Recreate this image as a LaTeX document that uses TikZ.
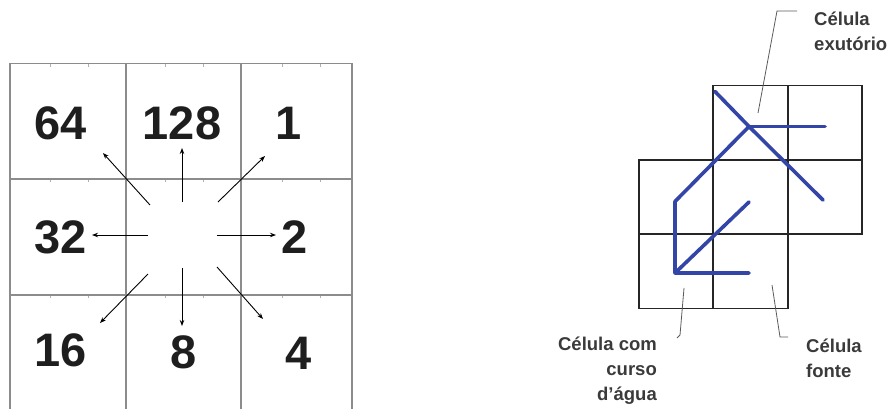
\documentclass[tikz,border=0pt]{standalone}
\usepackage{fontspec}
\setmainfont{Liberation Sans}
\usetikzlibrary{arrows.meta,calc}
\definecolor{gridgray}{HTML}{8C8C8C}
\definecolor{tickgray}{HTML}{B0B0B0}
\definecolor{numblack}{HTML}{1E1E1E}
\definecolor{flowblue}{HTML}{3445A8}
\definecolor{labelgray}{HTML}{3A3A3A}
\definecolor{leadergray}{HTML}{5A5A5A}
\begin{document}
\begin{tikzpicture}[x=1pt,y=-1pt,
  num/.style={font=\bfseries\fontsize{47}{47}\selectfont, text=numblack, inner sep=0pt},
  dirarrow/.style={draw=black, line width=0.9pt, -{Stealth[length=6pt,width=4.5pt]}},
  gridline/.style={draw=gridgray, line width=1.2pt},
  tick/.style={draw=tickgray, line width=0.7pt},
  cell/.style={draw=black!85, line width=1.8pt, minimum width=74.3pt, minimum height=74.3pt, inner sep=0pt},
  flow/.style={draw=flowblue, line width=3.6pt, line cap=round, line join=round},
  lbl/.style={font=\bfseries\fontsize{18.5}{25}\selectfont, text=labelgray, inner sep=0pt},
  leader/.style={draw=leadergray, line width=0.8pt}]
\useasboundingbox (0,0) rectangle (890,408);

% ---------- left: D8 direction grid ----------
\draw[gridline] (10,63.5) rectangle (352,411);
\foreach \x in {126,241} \draw[gridline] (\x,63.5) -- (\x,411);
\foreach \y in {179,295} \draw[gridline] (10,\y) -- (352,\y);
\foreach \y in {63.5,179,295}
  \foreach \x in {50,88,165,203,282,320}
    \draw[tick] (\x,\y+0.6) -- (\x,\y+3);

\node[num] (n64)  at (61,123.3)  {64};
\node[num] (n128) at (182,123.3) {128};
\node[num] (n1)   at (289,123)   {1};
\node[num] (n32)  at (61,237)    {32};
\node[num] (n2)   at (295,237)   {2};
\node[num] (n16)  at (61,350)    {16};
\node[num] (n8)   at (184,352)   {8};
\node[num] (n4)   at (299,353)   {4};

\coordinate (s64)  at (150,205); \coordinate (e64)  at (103,153);
\coordinate (s128) at (182,202); \coordinate (e128) at (182,148);
\coordinate (s1)   at (218,202); \coordinate (e1)   at (265,156);
\coordinate (s32)  at (148,235); \coordinate (e32)  at (92,235);
\coordinate (s2)   at (217,235); \coordinate (e2)   at (276,235);
\coordinate (s16)  at (148,274); \coordinate (e16)  at (100,323);
\coordinate (s8)   at (182,268); \coordinate (e8)   at (182,326);
\coordinate (s4)   at (217,267); \coordinate (e4)   at (263,319);
\foreach \k in {64,128,1,32,2,16,8,4}
  \draw[dirarrow] (s\k) -- (e\k);

% ---------- right: flow network ----------
\node[cell] (c10) at (750.5,122.6) {};
\node[cell] (c20) at (824.8,122.6) {};
\node[cell] (c01) at (676.2,197)   {};
\node[cell] (c11) at (750.5,197)   {};
\node[cell] (c21) at (824.8,197)   {};
\node[cell] (c02) at (676.2,271.4) {};
\node[cell] (c12) at (750.5,271.4) {};

\coordinate (bout) at (715,91.5);
\coordinate (b10) at (749,126.5);
\coordinate (b20) at (825,126.5);
\coordinate (b01) at (675,201.5);
\coordinate (b11) at (749,202);
\coordinate (b21) at (823,200);
\coordinate (b02) at (675,273);
\coordinate (b12) at (749,273);

\draw[flow] (bout) -- (b10) -- (b21);
\draw[flow] (b20) -- (b10);
\draw[flow] (b10) -- (b01) -- (b02) -- (b12);
\draw[flow] (b02) -- (b11);

% leaders
\coordinate (la1) at (797,11);  \coordinate (la2) at (777,11);  \coordinate (la3) at (758,113);
\coordinate (lb1) at (684,288); \coordinate (lb2) at (680,335); \coordinate (lb3) at (677,338);
\coordinate (lc1) at (772,285); \coordinate (lc2) at (780,337); \coordinate (lc3) at (788,337);
\draw[leader] (la1) -- (la2) -- (la3);
\draw[leader] (lb1) -- (lb2) -- (lb3);
\draw[leader] (lc1) -- (lc2) -- (lc3);

\node[lbl, align=left, anchor=base west]  (texut)  at (814,50)  {Célula\\exutório};
\node[lbl, align=right, anchor=base east] (tcurso) at (657,400) {Célula com\\curso\\d'água};
\node[lbl, align=left, anchor=base west]  (tfonte) at (806,377) {Célula\\fonte};
\end{tikzpicture}
\end{document}
